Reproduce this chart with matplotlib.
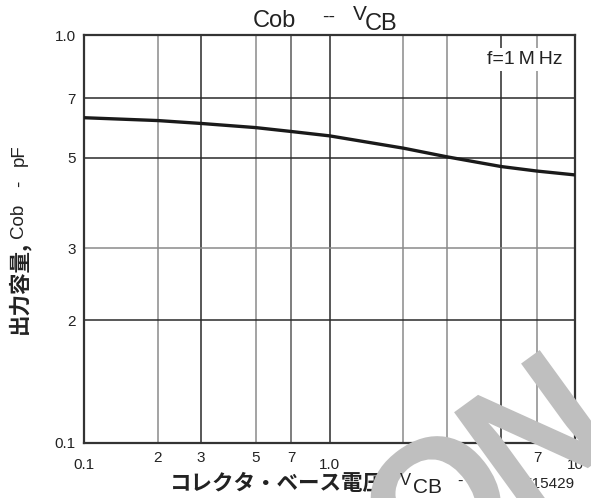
import matplotlib
matplotlib.use("Agg")
import matplotlib.pyplot as plt
from matplotlib.textpath import TextPath
from matplotlib.patches import PathPatch
from matplotlib.font_manager import FontProperties
from matplotlib.transforms import Affine2D, IdentityTransform

plt.rcParams['font.family'] = ['Liberation Sans', 'Noto Sans CJK JP', 'DejaVu Sans']

W, H = 591, 498

# Output capacitance vs collector-base voltage (f = 1 MHz)
vcb = [0.1, 0.2, 0.3, 0.5, 0.7, 1.0, 2.0, 3.0, 5.0, 7.0, 10.0]
cob = [6.27, 6.17, 6.07, 5.93, 5.80, 5.66, 5.28, 5.03, 4.76, 4.64, 4.54]

x_major = [0.1, 1.0, 10.0]
x_major_labels = ["0.1", "1.0", "10"]
x_minor = [0.2, 0.3, 0.5, 0.7, 2.0, 3.0, 5.0, 7.0]
x_minor_labels = ["2", "3", "5", "7", "2", "3", "5", "7"]

y_major = [1.0, 10.0]
y_major_labels = ["0.1", "1.0"]
y_minor = [2.0, 3.0, 5.0, 7.0]
y_minor_labels = ["2", "3", "5", "7"]

x_grid = [0.2, 0.3, 0.5, 0.7, 1.0, 2.0, 3.0, 5.0, 7.0]
x_grid_colors = ['#8a8a8a', '#2a2a2a', '#8a8a8a', '#5a5a5a', '#2a2a2a',
                 '#8a8a8a', '#8a8a8a', '#2a2a2a', '#8a8a8a']
y_grid = [2.0, 3.0, 5.0, 7.0]
y_grid_colors = ['#2a2a2a', '#8a8a8a', '#2a2a2a', '#2a2a2a']


def fx(x):
    return x / W


def fy(y):
    return 1 - y / H


fig = plt.figure(figsize=(W / 100, H / 100), dpi=100)
fig.patch.set_facecolor('white')
ax = fig.add_axes([fx(84), fy(443), (575 - 84) / W, (443 - 35) / H])
ax.set_xscale('log')
ax.set_yscale('log')
ax.set_xlim(0.1, 10)
ax.set_ylim(1, 10)

for xv, c in zip(x_grid, x_grid_colors):
    ax.axvline(xv, color=c, lw=1.1, zorder=1)
for yv, c in zip(y_grid, y_grid_colors):
    ax.axhline(yv, color=c, lw=1.1, zorder=1)

ax.plot(vcb, cob, color='#1a1a1a', lw=2.4, zorder=3, solid_capstyle='butt')

for s in ax.spines.values():
    s.set_color('#333333')
    s.set_linewidth(1.6)

ax.set_xticks(x_major)
ax.set_xticklabels(x_major_labels)
ax.set_xticks(x_minor, minor=True)
ax.set_xticklabels(x_minor_labels, minor=True)
ax.set_yticks(y_major)
ax.set_yticklabels(y_major_labels)
ax.set_yticks(y_minor, minor=True)
ax.set_yticklabels(y_minor_labels, minor=True)

ax.tick_params(axis='x', which='major', length=0, pad=11, labelsize=11, labelcolor='#222222')
ax.tick_params(axis='x', which='minor', length=0, pad=6, labelsize=11, labelcolor='#222222')
ax.tick_params(axis='y', which='both', length=0, pad=6, labelsize=11, labelcolor='#222222')

ax.text(563, H - 64, "f=1\u2009M\u2009Hz", transform=IdentityTransform(), fontsize=14,
        color='#222222', ha='right', va='baseline',
        bbox=dict(facecolor='white', edgecolor='none', pad=2), zorder=4)

# title
fig.text(fx(253), fy(27), "Cob", fontsize=17, color='#222222', ha='left', va='baseline')
fig.text(fx(322), fy(22), "--", fontsize=14, color='#222222', ha='left', va='baseline')
fig.text(fx(353), fy(20), "V", fontsize=15, color='#222222', ha='left', va='baseline')
fig.text(fx(365), fy(30), "CB", fontsize=17, color='#222222', ha='left', va='baseline')

# y axis label
fig.text(fx(19), fy(334), "出力容量,", fontsize=15.5, fontweight='bold',
         family=['Noto Sans CJK JP'], color='#222222',
         rotation=90, rotation_mode='anchor', ha='left', va='center')
for txt, ypos in [("Cob", 238), ("-", 187), ("pF", 166)]:
    fig.text(fx(19), fy(ypos), txt, fontsize=13.5, color='#222222',
             rotation=90, rotation_mode='anchor', ha='left', va='center')

# x axis label
fig.text(fx(170), fy(489), "コレクタ・ベース電圧,", fontsize=15.5, fontweight='bold',
         family=['Noto Sans CJK JP'], color='#222222', ha='left', va='baseline')
fig.text(fx(458), fy(485), "- V", fontsize=12, color='#222222', ha='left', va='baseline')
fig.text(fx(575), fy(488), "IT15429", fontsize=11, color='#222222', ha='right', va='baseline')

# watermark letters, set along a rotated baseline
wm_font = FontProperties(family='Liberation Sans', weight='bold')
wm_angle = 36
wm_origin = (416, H - 593)
for letter, advance in [("O", 0), ("N", 125)]:
    path = TextPath((advance, 0), letter, size=180, prop=wm_font)
    tf = Affine2D().rotate_deg(wm_angle).translate(*wm_origin)
    fig.add_artist(PathPatch(tf.transform_path(path), facecolor='#bfbfbf',
                             edgecolor='none', transform=IdentityTransform(), zorder=10))

fig.text(fx(400), fy(485), "V", fontsize=12, color='#222222', ha='left', va='baseline', zorder=11)
fig.text(fx(413), fy(493), "CB", fontsize=15, color='#222222', ha='left', va='baseline', zorder=11)

fig.savefig("out.png", dpi=100, facecolor='white')
